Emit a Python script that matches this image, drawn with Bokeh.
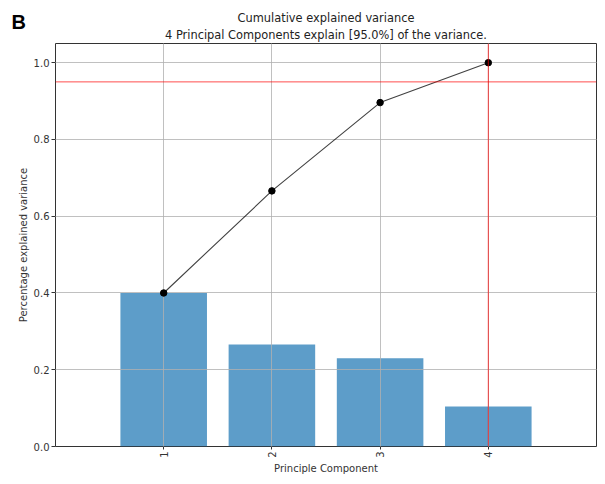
from math import pi
from bokeh.plotting import figure
from bokeh.models import (ColumnDataSource, Span, Label, Title, FixedTicker,
                          NumeralTickFormatter, Range1d)
from bokeh.embed import file_html
from bokeh.resources import INLINE

# ---- data ----
components = [1, 2, 3, 4]
explained_variance = [0.400, 0.266, 0.230, 0.104]
cumulative_variance = [0.400, 0.666, 0.896, 1.000]
threshold = 0.95
n_components = 4
x_ticks = [1, 2, 3, 4]
y_ticks = [0.0, 0.2, 0.4, 0.6, 0.8, 1.0]
title_line1 = "Cumulative explained variance"
title_line2 = "4 Principal Components explain [95.0%] of the variance."
panel_letter = "B"

FONT = "DejaVu Sans"
W, H = 597, 476

src = ColumnDataSource(dict(pc=components, ev=explained_variance, cv=cumulative_variance))

p = figure(width=W, height=H, output_backend="svg", toolbar_location=None,
           x_range=Range1d(0, 5), y_range=Range1d(0, 1.05),
           min_border_left=40, min_border_right=1, min_border_top=43,
           min_border_bottom=26)

p.outline_line_color = "#333333"
p.outline_line_width = 1
p.background_fill_color = "white"
p.border_fill_color = "white"

# titles (added inner first)
p.add_layout(Title(text=title_line2, align="center", text_font=FONT,
                   text_font_size="11.4px", text_font_style="normal",
                   text_color="#222222", standoff=3), "above")
p.add_layout(Title(text=title_line1, align="center", text_font=FONT,
                   text_font_size="11.4px", text_font_style="normal",
                   text_color="#222222", standoff=0), "above")

# bars
p.vbar(x="pc", top="ev", width=0.8, bottom=0, source=src,
       fill_color="#1f77b4", fill_alpha=0.72, line_color=None)

# grid above bars
for g in (p.xgrid, p.ygrid):
    g.level = "guide"
    g.grid_line_color = "#b0b0b0"
    g.grid_line_width = 0.8
p.xgrid.ticker = FixedTicker(ticks=x_ticks)
p.ygrid.ticker = FixedTicker(ticks=y_ticks)

# cumulative line + points
l = p.line(x="pc", y="cv", source=src, line_color="black", line_width=1.1, line_alpha=0.75)
l.level = "annotation"
s = p.scatter(x="pc", y="cv", source=src, size=6.5, fill_color="black",
              line_color="black")
s.level = "annotation"

# threshold lines
p.add_layout(Span(location=threshold, dimension="width", line_color="red",
                  line_alpha=0.7, line_width=1))
p.add_layout(Span(location=n_components, dimension="height", line_color="red",
                  line_alpha=0.7, line_width=1))

# axes
p.xaxis.ticker = FixedTicker(ticks=x_ticks)
p.yaxis.ticker = FixedTicker(ticks=y_ticks)
p.yaxis.formatter = NumeralTickFormatter(format="0.0")
p.xaxis.major_label_orientation = pi / 2
p.xaxis.axis_label = "Principle Component"
p.yaxis.axis_label = "Percentage explained variance"
for ax in (p.xaxis, p.yaxis):
    ax.axis_line_color = None
    ax.major_tick_line_color = "#333333"
    ax.major_tick_out = 4
    ax.major_tick_in = 0
    ax.minor_tick_line_color = None
    ax.major_label_text_font = FONT
    ax.major_label_text_font_size = "10px"
    ax.major_label_text_color = "#333333"
    ax.axis_label_text_font = FONT
    ax.axis_label_text_font_size = "10px"
    ax.axis_label_text_font_style = "normal"
    ax.axis_label_text_color = "#333333"
    ax.major_label_standoff = 2
    ax.axis_label_standoff = 2
p.xaxis.major_tick_out = 3

# panel letter, in the outer left side panel (not clipped to the frame)
p.add_layout(Label(x=11, y=425, x_units="screen", y_units="screen",
                   text=panel_letter, text_font="Liberation Sans",
                   text_font_style="bold", text_font_size="20px",
                   text_color="black", text_baseline="alphabetic"), "left")

open("out.html", "w").write(file_html(p, INLINE))
